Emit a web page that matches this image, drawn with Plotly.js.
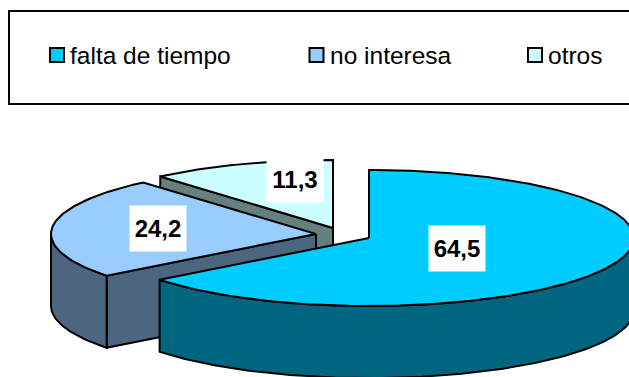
<!DOCTYPE html>
<html>
<head>
<meta charset="utf-8">
<script src="https://cdn.plot.ly/plotly-3.0.1.min.js"></script>
<style>html,body{margin:0;padding:0;background:#fff}#chart{width:629px;height:377px}</style>
</head>
<body>
<div id="chart"></div>
<script>
// Survey shares
const categories = ['falta de tiempo', 'no interesa', 'otros'];
const shares = [64.5, 24.2, 11.3];

// Slice styling
const topColors = ['#00CCFF', '#99CCFF', '#CCFFFF'];
const wallColors = ['#006680', '#4D6680', '#668080'];

// Exploded pie geometry, in plot units (one unit = one pixel)
const centers = [[369, 238], [316, 234], [333, 228]];
const labelCenters = [[457, 248], [158, 228], [295, 179.5]];
const legendSwatchX = [57, 316.5, 535];
const legendTextX = [69, 329, 547];
const legendY = 55;
const RX = 265, RY = 68, DEPTH = 72;

const total = shares.reduce((a, b) => a + b, 0);
let running = 0;
const slices = shares.map((v, i) => {
  const start = running / total * 360;
  running += v;
  return {i, start, end: running / total * 360, c: centers[i]};
});

function pt(c, deg, drop) {
  const r = deg * Math.PI / 180;
  return [c[0] + RX * Math.sin(r), c[1] - RY * Math.cos(r) + drop];
}
function arc(c, a0, a1, drop) {
  const n = Math.max(2, Math.ceil(Math.abs(a1 - a0)));
  const out = [];
  for (let k = 0; k <= n; k++) out.push(pt(c, a0 + (a1 - a0) * k / n, drop));
  return out;
}
function poly(points, color) {
  const closed = points.concat([points[0]]);
  return {
    type: 'scatter', mode: 'lines', fill: 'toself', fillcolor: color,
    x: closed.map(p => p[0]), y: closed.map(p => p[1]),
    line: {color: '#000', width: 2, shape: 'linear'},
    hoverinfo: 'skip', showlegend: false
  };
}

const traces = [];
// Painted from the back slice to the front one
[2, 1, 0].forEach(idx => {
  const s = slices[idx], wall = wallColors[idx];
  // radial cut faces: the opening edge looks forward on the left half, the closing edge on the right
  const openVisible = s.start > 180 && s.start < 360;
  const closeVisible = s.end > 0 && s.end < 180;
  if (openVisible) {
    traces.push(poly([s.c, pt(s.c, s.start, 0), pt(s.c, s.start, DEPTH), [s.c[0], s.c[1] + DEPTH]], wall));
  }
  if (closeVisible) {
    traces.push(poly([s.c, pt(s.c, s.end, 0), pt(s.c, s.end, DEPTH), [s.c[0], s.c[1] + DEPTH]], wall));
  }
  // curved rim, only the front half of the ellipse shows
  const a0 = Math.max(s.start, 90), a1 = Math.min(s.end, 270);
  if (a1 > a0) {
    traces.push(poly(arc(s.c, a0, a1, 0).concat(arc(s.c, a1, a0, DEPTH)), wall));
  }
  // top face
  traces.push(poly([s.c].concat(arc(s.c, s.start, s.end, 0)), topColors[idx]));
});

// Legend swatches
traces.push({
  type: 'scatter', mode: 'markers',
  x: legendSwatchX, y: categories.map(() => legendY),
  marker: {symbol: 'square', size: 14, color: topColors, line: {color: '#000', width: 2}},
  hoverinfo: 'skip', showlegend: false
});

const FONT = '"Liberation Sans", Arial, sans-serif';
const annotations = [];
shares.forEach((v, i) => {
  annotations.push({
    x: labelCenters[i][0], y: labelCenters[i][1], xref: 'x', yref: 'y',
    text: '<b>' + v.toFixed(1).replace('.', ',') + '</b>',
    showarrow: false, width: 56, height: 45, bgcolor: '#fff',
    xanchor: 'center', yanchor: 'middle', borderpad: 0,
    font: {family: FONT, size: 24, color: '#000'}
  });
  annotations.push({
    x: legendTextX[i], y: legendY, xref: 'x', yref: 'y',
    text: categories[i], showarrow: false,
    xanchor: 'left', yanchor: 'middle', borderpad: 0,
    font: {family: FONT, size: 24.5, color: '#000'}
  });
});

const layout = {
  width: 629, height: 377,
  margin: {l: 0, r: 0, t: 0, b: 0},
  paper_bgcolor: '#fff', plot_bgcolor: '#fff',
  showlegend: false,
  xaxis: {range: [0, 629], visible: false, fixedrange: true},
  yaxis: {range: [377, 0], visible: false, fixedrange: true},
  shapes: [{
    type: 'rect', xref: 'x', yref: 'y', x0: 9, x1: 640, y0: 11, y1: 104,
    line: {color: '#000', width: 2}, fillcolor: 'rgba(0,0,0,0)', layer: 'below'
  }],
  annotations
};

Plotly.newPlot('chart', traces, layout, {displayModeBar: false, staticPlot: true});
</script>
</body>
</html>
